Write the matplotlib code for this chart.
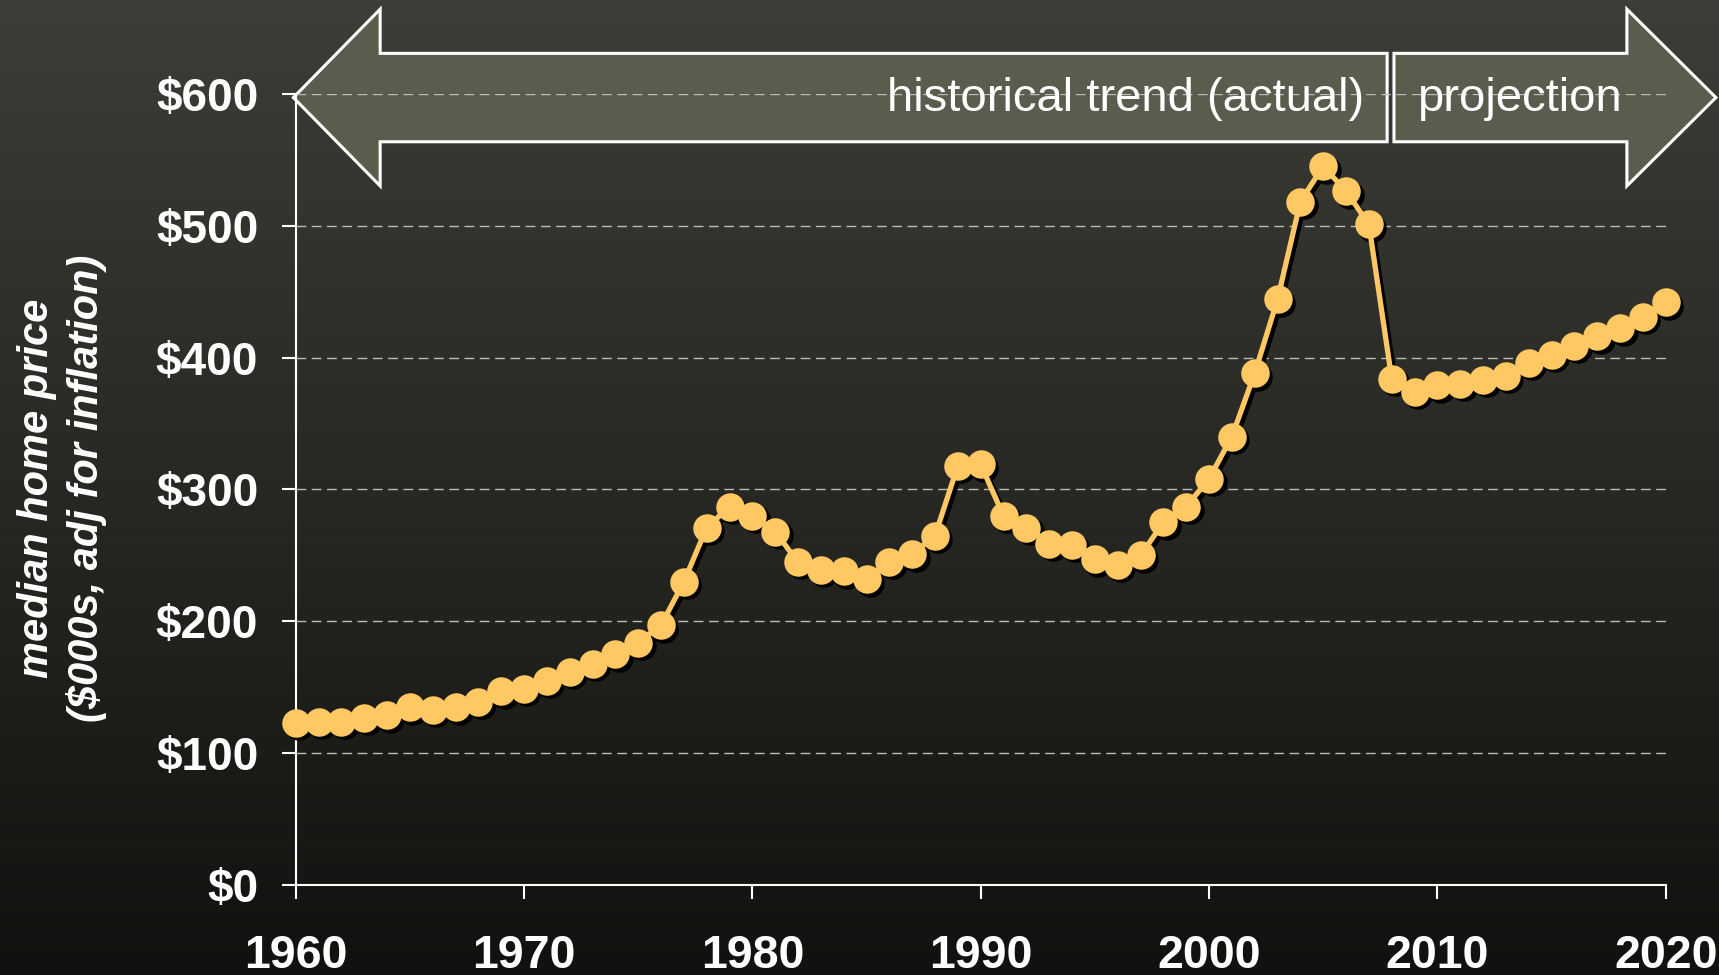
import numpy as np
import matplotlib
matplotlib.use('Agg')
import matplotlib.pyplot as plt
from matplotlib.patches import Polygon
from matplotlib.transforms import ScaledTranslation

plt.rcParams['font.family'] = ['Liberation Sans', 'DejaVu Sans']

years = list(range(1960, 2021))
prices = [123, 124, 124, 127, 129, 135, 133, 135, 139, 147,
          149, 155, 162, 168, 175, 184, 197, 230, 271, 287,
          280, 268, 245, 239, 238, 232, 245, 251, 265, 318,
          319, 280, 271, 259, 258, 247, 243, 250, 275, 287,
          308, 340, 388, 444, 518, 545, 526, 501, 384, 374,
          379, 380, 383, 386, 396, 402, 409, 416, 422, 431, 442]

x_ticks = [1960, 1970, 1980, 1990, 2000, 2010, 2020]
y_ticks = [0, 100, 200, 300, 400, 500, 600]
y_labels = ['$0', '$100', '$200', '$300', '$400', '$500', '$600']

phase_labels = ['historical trend (actual)', 'projection']
split_year = 2008

fig = plt.figure(figsize=(17.19, 9.75), dpi=100)

# background gradient
bg = fig.add_axes([0, 0, 1, 1], zorder=-10)
top = np.array([62, 62, 56]) / 255
bot = np.array([17, 17, 15]) / 255
t = np.linspace(0, 1, 256)[:, None]
grad = (top[None, :] * (1 - t) + bot[None, :] * t)[:, None, :]
bg.imshow(grad, aspect='auto', extent=[0, 1, 0, 1])
bg.axis('off')

ax = fig.add_axes([0.172, 0.092, 0.797, 0.812])
ax.set_facecolor('none')
ax.set_xlim(1960, 2020)
ax.set_ylim(0, 600)

# arrows (drawn in data coords, allowed to spill outside)
yc, sh, hh = 597, 33.5, 67
hl = 3.8
left = [(1959.9, yc), (1959.9 + hl, yc + hh), (1959.9 + hl, yc + sh),
        (split_year - 0.2, yc + sh), (split_year - 0.2, yc - sh),
        (1959.9 + hl, yc - sh), (1959.9 + hl, yc - hh)]
tip = 2022.2
right = [(split_year + 0.1, yc + sh), (tip - hl - 0.1, yc + sh),
         (tip - hl - 0.1, yc + hh), (tip, yc), (tip - hl - 0.1, yc - hh),
         (tip - hl - 0.1, yc - sh), (split_year + 0.1, yc - sh)]
for pts in [left, right]:
    ax.add_patch(Polygon(pts, closed=True, facecolor='#5a5c4e', edgecolor='white',
                         linewidth=2.2, zorder=1, clip_on=False, joinstyle='miter'))

ax.text(2006.8, 587, phase_labels[0], color='white', fontsize=34,
        ha='right', va='baseline', zorder=3)
ax.text(2009.1, 587, phase_labels[1], color='white', fontsize=34,
        ha='left', va='baseline', zorder=3)

# grid
ax.set_axisbelow('line')
ax.yaxis.grid(True, color='#bcbcb4', linewidth=1, dashes=(7, 4))

# data with shadow
shadow = ax.transData + ScaledTranslation(2.5 / 72, -2.5 / 72, fig.dpi_scale_trans)
ax.plot(years, prices, color='black', lw=3.8, marker='o', ms=20.5, mew=0,
        transform=shadow, zorder=4, clip_on=False)
ax.plot(years, prices, color='#ffc862', lw=3.8, marker='o', ms=20.5, mew=0,
        zorder=5, clip_on=False)

for s in ['top', 'right']:
    ax.spines[s].set_visible(False)
for s in ['left', 'bottom']:
    ax.spines[s].set_color('white')
    ax.spines[s].set_linewidth(1.5)

ax.set_xticks(x_ticks)
ax.set_xticklabels([str(v) for v in x_ticks])
ax.set_yticks(y_ticks)
ax.set_yticklabels(y_labels)
ax.tick_params(axis='both', colors='white', length=10, width=1.5, direction='out')
ax.tick_params(axis='x', pad=25, labelsize=33.5)
ax.tick_params(axis='y', pad=17, labelsize=33)
for lab in ax.get_xticklabels() + ax.get_yticklabels():
    lab.set_fontweight('bold')

fig.text(0.036, 1 - 488 / 975, 'median home price\n($000s, adj for inflation)',
         rotation=90, ha='center', va='center', multialignment='center',
         color='white', fontsize=30, fontweight='bold', fontstyle='italic',
         linespacing=1.3)

fig.savefig('out.png', dpi=100)
